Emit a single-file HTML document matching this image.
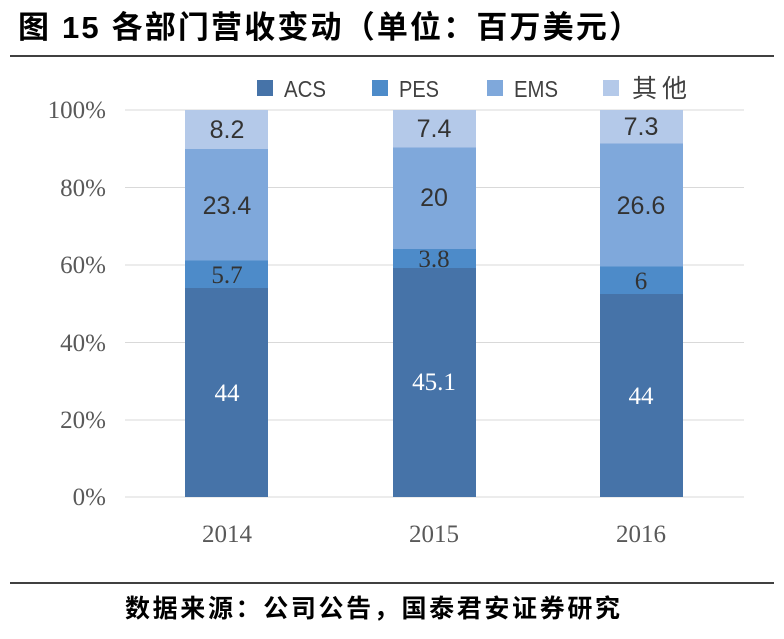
<!DOCTYPE html>
<html><head><meta charset="utf-8"><style>
body{margin:0;background:#fff;width:784px;height:634px;overflow:hidden}
</style></head><body>
<svg width="784" height="634" xmlns="http://www.w3.org/2000/svg">
<text x="18" y="38" textLength="622" lengthAdjust="spacing" font-family="Liberation Sans, Noto Sans CJK SC, sans-serif" font-size="31" font-weight="bold" fill="#000">图 15 各部门营收变动（单位：百万美元）</text>
<line x1="10" y1="56" x2="774" y2="56" stroke="#000" stroke-width="1.5"/>
<g stroke="#d9d9d9" stroke-width="1">
<line x1="125" y1="110" x2="744" y2="110"/><line x1="125" y1="187.5" x2="744" y2="187.5"/>
<line x1="125" y1="265" x2="744" y2="265"/><line x1="125" y1="342.5" x2="744" y2="342.5"/>
<line x1="125" y1="420" x2="744" y2="420"/><line x1="125" y1="497" x2="744" y2="497"/>
</g>
<g font-family="Liberation Serif, serif" font-size="25" fill="#595959" text-anchor="end">
<text x="106" y="118">100%</text><text x="106" y="196">80%</text><text x="106" y="273">60%</text>
<text x="106" y="351">40%</text><text x="106" y="428">20%</text><text x="106" y="505">0%</text>
</g>
<g font-family="Liberation Serif, serif" font-size="25" fill="#595959" text-anchor="middle">
<text x="227" y="542">2014</text><text x="434" y="542">2015</text><text x="641" y="542">2016</text>
</g>
<g font-family="Liberation Sans, Noto Sans CJK SC, sans-serif" font-size="23" fill="#404040">
<rect x="257" y="80" width="16" height="16" fill="#4673a8"/><text x="284" y="97" textLength="42" lengthAdjust="spacingAndGlyphs">ACS</text>
<rect x="372" y="80" width="16" height="16" fill="#4d8bc9"/><text x="399" y="97" textLength="40" lengthAdjust="spacingAndGlyphs">PES</text>
<rect x="487" y="80" width="16" height="16" fill="#7fa8db"/><text x="514" y="97" textLength="44" lengthAdjust="spacingAndGlyphs">EMS</text>
<rect x="603" y="80" width="16" height="16" fill="#b4c9e9"/><text x="632" y="97" font-size="25" textLength="55" lengthAdjust="spacing">其他</text>
</g>
<g>
<rect x="185" y="110" width="83" height="39" fill="#b4c9e9"/>
<rect x="185" y="149" width="83" height="111.5" fill="#7fa8db"/>
<rect x="185" y="260.5" width="83" height="27.5" fill="#4d8bc9"/>
<rect x="185" y="288" width="83" height="209" fill="#4673a8"/>
<rect x="393" y="110" width="83" height="37.5" fill="#b4c9e9"/>
<rect x="393" y="147.5" width="83" height="101.5" fill="#7fa8db"/>
<rect x="393" y="249" width="83" height="19" fill="#4d8bc9"/>
<rect x="393" y="268" width="83" height="229" fill="#4673a8"/>
<rect x="600" y="110" width="83" height="33.5" fill="#b4c9e9"/>
<rect x="600" y="143.5" width="83" height="123" fill="#7fa8db"/>
<rect x="600" y="266.5" width="83" height="27.5" fill="#4d8bc9"/>
<rect x="600" y="294" width="83" height="203" fill="#4673a8"/>
</g>
<g font-family="Liberation Sans, sans-serif" font-size="25" fill="#333" text-anchor="middle">
<text x="227" y="138">8.2</text><text x="434" y="137">7.4</text><text x="641" y="135">7.3</text>
<text x="227" y="214">23.4</text><text x="434" y="206">20</text><text x="641" y="214">26.6</text>
</g>
<g font-family="Liberation Serif, serif" font-size="25" fill="#333" text-anchor="middle">
<text x="227" y="283">5.7</text><text x="434" y="267">3.8</text><text x="641" y="289">6</text>
</g>
<g font-family="Liberation Serif, serif" font-size="25" fill="#fff" text-anchor="middle">
<text x="227" y="401">44</text><text x="434" y="390">45.1</text><text x="641" y="404">44</text>
</g>
<line x1="10" y1="583" x2="774" y2="583" stroke="#000" stroke-width="1.5"/>
<text x="125" y="617" textLength="495" lengthAdjust="spacing" font-family="Liberation Sans, Noto Sans CJK SC, sans-serif" font-size="25" font-weight="bold" fill="#000">数据来源：公司公告，国泰君安证券研究</text>
</svg>
</body></html>
